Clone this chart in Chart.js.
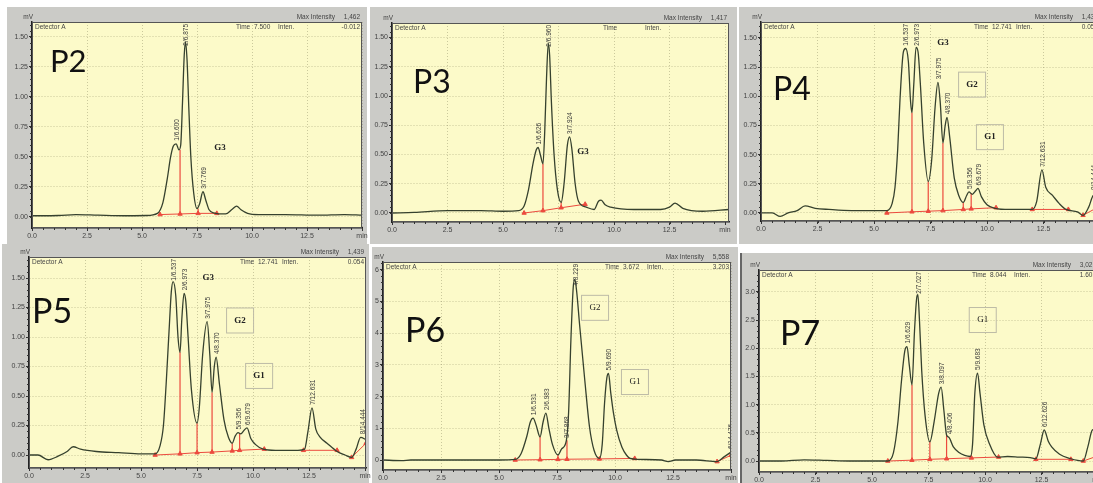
<!DOCTYPE html>
<html>
<head>
<meta charset="utf-8">
<script src="https://cdn.jsdelivr.net/npm/chart.js@4.4.1/dist/chart.umd.min.js"></script>
<style>
  html, body { margin: 0; padding: 0; background: #fff; overflow: hidden; }
  body { width: 1093px; height: 483px; position: relative; }
  .frame { position: absolute; background: #cbcbc7; }
  canvas { position: absolute; }
</style>
</head>
<body>
<script>
// ------------------------------------------------------------------
//  Axis ticks
// ------------------------------------------------------------------
const xTicks = [0, 2.5, 5, 7.5, 10, 12.5, 15];
const yTicksLow = [0, 0.25, 0.5, 0.75, 1, 1.25, 1.5];
const yTicksP6 = [0, 1, 2, 3, 4, 5, 6];
const yTicksP7 = [0, 0.5, 1, 1.5, 2, 2.5, 3];

// ------------------------------------------------------------------
//  Chromatograms: [time (min), signal (mV)]
// ------------------------------------------------------------------
const p2Trace = [[0,0.01],[1.2,0.012],[2.0,0.02],[3.0,0.015],[4.2,0.01],[5.2,0.012],[5.7,0.03],[5.95,0.12],[6.15,0.32],[6.3,0.5],[6.42,0.59],[6.55,0.61],[6.68,0.56],[6.76,0.6],[6.84,0.95],[6.92,1.35],[6.98,1.46],[7.05,1.3],[7.13,0.9],[7.22,0.5],[7.35,0.2],[7.5,0.07],[7.62,0.11],[7.77,0.21],[7.9,0.14],[8.05,0.06],[8.25,0.035],[8.8,0.025],[9.1,0.065],[9.3,0.09],[9.5,0.06],[9.8,0.03],[10.3,0.02],[11.5,0.02],[13.0,0.015],[14.2,0.02],[15.0,0.015]];
const p3Trace = [[0,0.0],[1.0,0.005],[2.5,0.02],[4.0,0.02],[5.0,0.015],[5.7,0.02],[5.95,0.06],[6.15,0.2],[6.35,0.42],[6.5,0.54],[6.58,0.56],[6.68,0.5],[6.8,0.42],[6.88,0.7],[6.96,1.15],[7.04,1.45],[7.1,1.35],[7.18,0.95],[7.3,0.5],[7.45,0.2],[7.62,0.09],[7.75,0.25],[7.9,0.58],[8.0,0.65],[8.1,0.55],[8.25,0.25],[8.4,0.1],[8.75,0.05],[9.1,0.03],[9.3,0.1],[9.42,0.11],[9.6,0.07],[9.85,0.05],[10.9,0.03],[12.1,0.03],[12.5,0.05],[12.75,0.085],[13.1,0.04],[14.0,0.015],[15.2,0.03]];
const p4Trace = [[0,0.0],[0.5,0.0],[0.85,-0.03],[1.2,0.0],[1.6,0.02],[1.95,0.06],[2.4,0.04],[3.0,0.03],[4.0,0.02],[5.0,0.02],[5.57,0.02],[5.8,0.08],[5.93,0.22],[6.05,0.55],[6.15,0.97],[6.3,1.38],[6.4,1.41],[6.52,1.3],[6.62,0.95],[6.68,0.86],[6.76,1.1],[6.86,1.42],[6.95,1.38],[7.05,1.11],[7.2,0.6],[7.4,0.27],[7.55,0.45],[7.7,0.9],[7.83,1.12],[7.93,0.95],[8.05,0.6],[8.15,0.75],[8.23,0.82],[8.35,0.65],[8.55,0.3],[8.75,0.15],[8.95,0.09],[9.1,0.15],[9.2,0.18],[9.35,0.16],[9.5,0.19],[9.6,0.21],[9.75,0.14],[10.0,0.07],[10.35,0.04],[11.0,0.03],[12.0,0.03],[12.2,0.1],[12.43,0.37],[12.6,0.22],[12.9,0.15],[13.2,0.08],[13.5,0.03],[14.0,0.01],[14.25,-0.02],[14.5,0.05],[14.7,0.15],[15.2,0.18]];
const p5Trace = [[0,0.0],[0.4,0.0],[0.85,-0.04],[1.3,-0.01],[1.7,0.03],[1.97,0.07],[2.3,0.05],[3.0,0.03],[4.0,0.02],[5.0,0.01],[5.63,0.01],[5.85,0.08],[6.0,0.25],[6.12,0.6],[6.25,1.05],[6.35,1.38],[6.43,1.47],[6.55,1.35],[6.65,1.0],[6.74,0.87],[6.82,1.15],[6.92,1.37],[7.0,1.3],[7.1,1.0],[7.25,0.55],[7.5,0.27],[7.6,0.4],[7.75,0.85],[7.95,1.13],[8.07,0.85],[8.17,0.53],[8.27,0.75],[8.35,0.83],[8.5,0.6],[8.7,0.3],[8.9,0.15],[9.07,0.1],[9.2,0.16],[9.33,0.19],[9.45,0.18],[9.6,0.21],[9.73,0.23],[9.9,0.14],[10.1,0.09],[10.45,0.05],[11.0,0.04],[12.0,0.04],[12.3,0.05],[12.45,0.2],[12.63,0.4],[12.8,0.22],[13.0,0.15],[13.3,0.1],[13.75,0.03],[14.1,0.0],[14.4,-0.02],[14.6,0.05],[14.8,0.15],[15.04,0.13]];
const p6Trace = [[0,0.0],[0.8,-0.02],[1.2,0.0],[3.0,0.0],[4.0,0.0],[5.0,0.0],[5.7,0.02],[5.95,0.2],[6.2,0.75],[6.35,1.2],[6.47,1.32],[6.6,1.1],[6.77,0.73],[6.9,1.2],[7.02,1.48],[7.15,1.0],[7.3,0.5],[7.54,0.16],[7.7,0.35],[7.9,0.6],[8.0,1.5],[8.1,3.8],[8.2,5.45],[8.27,5.7],[8.35,5.3],[8.47,4.3],[8.7,2.5],[8.9,1.05],[9.1,0.3],[9.33,0.05],[9.45,0.5],[9.55,1.8],[9.65,2.6],[9.72,2.73],[9.82,2.1],[9.93,1.5],[10.07,0.95],[10.3,0.4],[10.5,0.15],[10.65,0.05],[11.0,0.02],[12.0,0.0],[12.3,-0.05],[12.6,0.0],[13.5,0.0],[14.4,-0.05],[14.7,0.1],[15.0,0.25]];
const p7Trace = [[0,0.0],[1.0,0.0],[2.0,0.02],[3.0,0.01],[4.0,0.0],[5.0,0.0],[5.7,0.0],[5.95,0.15],[6.15,0.7],[6.3,1.4],[6.45,1.95],[6.55,2.03],[6.65,1.7],[6.77,1.35],[6.88,2.3],[6.98,2.9],[7.03,2.95],[7.1,2.5],[7.2,1.6],[7.35,0.8],[7.56,0.34],[7.75,0.7],[7.95,1.2],[8.06,1.31],[8.18,0.9],[8.3,0.46],[8.4,0.42],[8.6,0.25],[8.85,0.15],[9.1,0.1],[9.35,0.08],[9.45,0.3],[9.55,1.2],[9.67,1.56],[9.78,1.2],[9.95,0.64],[10.2,0.3],[10.55,0.07],[11.0,0.08],[11.5,0.07],[12.0,0.06],[12.25,0.04],[12.45,0.3],[12.62,0.55],[12.8,0.35],[12.95,0.25],[13.3,0.12],[13.8,0.04],[14.1,0.01],[14.35,0.0],[14.55,0.25],[14.75,0.55],[15.2,0.6]];

// integration baselines: segments of [time, level, drop line top or null]
const p2Base = [[[5.82,0.02,null],[6.73,0.025,0.56],[7.55,0.03,0.07],[8.4,0.03,null]]];
const p3Base = [[[5.95,0.0,null],[6.8,0.02,0.42],[7.62,0.045,0.09],[8.7,0.075,null]]];
const p4Base = [[[5.57,0.0,null],[6.68,0.01,0.86],[7.4,0.015,0.27],[8.05,0.02,0.6],[8.95,0.03,0.09],[9.3,0.035,0.17],[10.4,0.045,null]],
                [[12.0,0.03,null],[13.6,0.03,null]],
                [[14.25,-0.02,null],[15.2,0.08,null]]];
const p5Base = [[[5.63,0.0,null],[6.74,0.01,0.87],[7.5,0.02,0.27],[8.17,0.025,0.53],[9.07,0.035,0.1],[9.4,0.04,0.18],[10.5,0.05,null]],
                [[12.25,0.04,null],[13.75,0.04,null]],
                [[14.4,-0.02,null],[15.04,0.1,null]]];
const p6Base = [[[5.7,0.0,null],[6.77,0.01,0.73],[7.54,0.02,0.16],[7.93,0.025,0.62],[9.33,0.035,null],[10.85,0.05,null]],
                [[14.4,-0.05,null],[15.0,0.15,null]]];
const p7Base = [[[5.7,0.0,null],[6.77,0.015,1.35],[7.56,0.03,0.34],[8.3,0.04,0.46],[9.4,0.055,0.08],[10.6,0.07,null]],
                [[12.25,0.03,null],[13.8,0.03,null]],
                [[14.35,0.0,null],[15.2,0.12,null]]];

// peak labels: [time, apex, text]
const p2Peaks = [[6.55,0.61,'1/6.600'],[6.98,1.46,'2/6.875'],[7.77,0.21,'3/7.769']];
const p3Peaks = [[6.58,0.56,'1/6.626'],[7.04,1.45,'2/6.960'],[8.0,0.65,'3/7.924']];
const p4Peaks = [[6.4,1.41,'1/6.537'],[6.86,1.42,'2/6.973'],[7.83,1.12,'3/7.975'],[8.23,0.82,'4/8.370'],[9.2,0.18,'5/9.356'],[9.6,0.21,'6/9.679'],[12.43,0.37,'7/12.631'],[14.72,0.17,'8/14.444']];
const p5Peaks = [[6.43,1.47,'1/6.537'],[6.92,1.37,'2/6.973'],[7.95,1.13,'3/7.975'],[8.35,0.83,'4/8.370'],[9.33,0.19,'5/9.356'],[9.73,0.23,'6/9.679'],[12.63,0.4,'7/12.631'],[14.85,0.15,'8/14.444']];
const p6Peaks = [[6.47,1.32,'1/6.531'],[7.02,1.48,'2/6.983'],[7.9,0.6,'3/7.868'],[8.27,5.7,'4/8.229'],[9.72,2.73,'5/9.690'],[14.95,0.25,'6/14.476']];
const p7Peaks = [[6.55,2.03,'1/6.629'],[7.03,2.95,'2/7.027'],[8.06,1.31,'3/8.097'],[8.4,0.42,'4/8.406'],[9.67,1.56,'5/9.683'],[12.62,0.55,'6/12.626']];

// ------------------------------------------------------------------
//  Panel layout (frame: left, top, width, height / plot: l, t, r, b)
// ------------------------------------------------------------------
const panels = [
  { name: 'P2', frame: [7, 7, 360, 237], plot: [32, 22, 362, 228], xMax: 15, yMin: -0.092, yMax: 1.625,
    yTicks: yTicksLow, dec: 2, minorY: 0.05, trace: p2Trace, base: p2Base, peaks: p2Peaks,
    maxInt: '1,462', time: '7.500', inten: '-0.012', title: [50, 72, 31],
    notes: [['G3', 8.55, 0.575, false]] },
  { name: 'P3', frame: [370, 7, 367, 237], plot: [392, 23, 729, 222], xMax: 15.18, yMin: -0.077, yMax: 1.624,
    yTicks: yTicksLow, dec: 2, minorY: 0.05, trace: p3Trace, base: p3Base, peaks: p3Peaks,
    maxInt: '1,417', time: '', inten: '', title: [413, 93, 32],
    notes: [['G3', 8.6, 0.52, false]] },
  { name: 'P4', frame: [739, 7, 370, 237], plot: [761, 22, 1100, 221], xMax: 15.0, yMin: -0.069, yMax: 1.637,
    yTicks: yTicksLow, dec: 2, minorY: 0.05, trace: p4Trace, base: p4Base, peaks: p4Peaks,
    maxInt: '1,439', time: '12.741', inten: '0.054', title: [773, 100, 32],
    notes: [['G3', 8.05, 1.46, false], ['G2', 9.34, 1.1, true], ['G1', 10.13, 0.65, true]] },
  { name: 'P5', frame: [2, 244, 367, 239], plot: [29, 257, 366, 468], xMax: 15.04, yMin: -0.11, yMax: 1.678,
    yTicks: yTicksLow, dec: 2, minorY: 0.05, trace: p5Trace, base: p5Base, peaks: p5Peaks,
    maxInt: '1,439', time: '12.741', inten: '0.054', title: [32, 323, 34],
    notes: [['G3', 8.0, 1.5, false], ['G2', 9.42, 1.14, true], ['G1', 10.27, 0.67, true]] },
  { name: 'P6', frame: [372, 247, 366, 236], plot: [383, 262, 731, 470], xMax: 15.0, yMin: -0.315, yMax: 6.246,
    yTicks: yTicksP6, dec: 0, minorY: 0.2, trace: p6Trace, base: p6Base, peaks: p6Peaks,
    maxInt: '5,558', time: '3.672', inten: '3.203', title: [405, 342, 34],
    notes: [['G2', 9.14, 4.8, true], ['G1', 10.86, 2.46, true]] },
  { name: 'P7', frame: [740, 253, 370, 230], plot: [759, 270, 1098, 472], xMax: 15.0, yMin: -0.195, yMax: 3.387,
    yTicks: yTicksP7, dec: 1, minorY: 0.1, trace: p7Trace, base: p7Base, peaks: p7Peaks,
    maxInt: '3,021', time: '8.044', inten: '1.603', title: [780, 345, 34],
    notes: [['G1', 9.9, 2.5, true]] }
];

const SMALL = '"Liberation Sans", sans-serif';

function baselinePoints(segments) {
  const pts = [];
  segments.forEach(seg => {
    seg.forEach(([t, v]) => pts.push({ x: t, y: v }));
    pts.push({ x: seg[seg.length - 1][0], y: null });
  });
  return pts;
}

// ------------------------------------------------------------------
//  Plugin: plot background, drop lines, labels, header texts
// ------------------------------------------------------------------
function chromPlugin(p) {
  return {
    id: 'chrom',
    beforeDraw(chart) {
      const { ctx, chartArea: a } = chart;
      ctx.save();
      ctx.fillStyle = '#fcfac9';
      ctx.fillRect(a.left, a.top, a.right - a.left, a.bottom - a.top);
      ctx.restore();
    },
    beforeDatasetsDraw(chart) {
      const { ctx, chartArea: a, scales: { x: xs, y: ys } } = chart;
      ctx.save();
      ctx.beginPath();
      ctx.rect(a.left, a.top, a.right - a.left, a.bottom - a.top);
      ctx.clip();
      ctx.strokeStyle = '#ec4a3e';
      ctx.lineWidth = 1.2;
      ctx.beginPath();
      p.base.forEach(seg => seg.forEach(([t, v, top]) => {
        if (top == null) return;
        const px = xs.getPixelForValue(t);
        ctx.moveTo(px, ys.getPixelForValue(v));
        ctx.lineTo(px, ys.getPixelForValue(top));
      }));
      ctx.stroke();
      ctx.restore();
    },
    afterDatasetsDraw(chart) {
      const { ctx, chartArea: a, scales: { x: xs, y: ys } } = chart;
      ctx.save();
      ctx.beginPath();
      ctx.rect(a.left, a.top, a.right - a.left, a.bottom - a.top);
      ctx.clip();

      // peak labels
      ctx.fillStyle = '#3a3a3a';
      ctx.font = '6.5px ' + SMALL;
      ctx.textAlign = 'left';
      ctx.textBaseline = 'middle';
      p.peaks.forEach(([t, v, label]) => {
        const px = xs.getPixelForValue(t) + 1;
        let py = ys.getPixelForValue(v) - 3;
        const w = ctx.measureText(label).width;
        if (py - w < a.top + 2) py = a.top + 2 + w;
        ctx.save();
        ctx.translate(px, py);
        ctx.rotate(-Math.PI / 2);
        ctx.fillText(label, 0, 0);
        ctx.restore();
      });

      // G notes
      p.notes.forEach(([text, t, v, boxed]) => {
        const px = xs.getPixelForValue(t);
        const py = ys.getPixelForValue(v);
        if (boxed) {
          ctx.strokeStyle = '#bdbba6';
          ctx.lineWidth = 1;
          ctx.strokeRect(px - 13.5, py - 12.5, 27, 25);
        }
        ctx.fillStyle = '#222';
        ctx.font = (p.dec === 2 ? 'bold ' : '') + '9px "Liberation Serif", serif';
        ctx.textAlign = 'center';
        ctx.textBaseline = 'middle';
        ctx.fillText(text, px, py);
      });

      // header inside plot
      ctx.fillStyle = '#444';
      ctx.font = '6.5px ' + SMALL;
      ctx.textBaseline = 'alphabetic';
      ctx.textAlign = 'left';
      ctx.fillText('Detector A', a.left + 3, a.top + 7);
      ctx.fillText('Time', a.right - 126, a.top + 7);
      ctx.fillText(p.time, a.right - 108, a.top + 7);
      ctx.fillText('Inten.', a.right - 84, a.top + 7);
      ctx.textAlign = 'right';
      ctx.fillText(p.inten, a.right - 2, a.top + 7);
      ctx.restore();

      // plot frame
      ctx.save();
      ctx.strokeStyle = '#555';
      ctx.lineWidth = 1;
      ctx.strokeRect(a.left + 0.5, a.top + 0.5, a.right - a.left - 1, a.bottom - a.top - 1);
      ctx.restore();
    },
    afterDraw(chart) {
      const { ctx, chartArea: a, scales: { x: xs, y: ys } } = chart;
      ctx.save();
      // minor ticks
      ctx.strokeStyle = '#333';
      ctx.lineWidth = 1;
      ctx.beginPath();
      for (let t = 0; t <= p.xMax + 1e-6; t += 0.5) {
        const px = Math.round(xs.getPixelForValue(t)) + 0.5;
        ctx.moveTo(px, a.bottom);
        ctx.lineTo(px, a.bottom + 2);
      }
      for (let v = 0; v <= p.yMax + 1e-6; v += p.minorY) {
        const py = Math.round(ys.getPixelForValue(v)) + 0.5;
        ctx.moveTo(a.left - 2, py);
        ctx.lineTo(a.left, py);
      }
      ctx.stroke();

      // header above plot
      ctx.fillStyle = '#444';
      ctx.font = '6.5px ' + SMALL;
      ctx.textAlign = 'right';
      ctx.textBaseline = 'alphabetic';
      ctx.fillText('mV', a.left + 1, a.top - 3);
      ctx.fillText(p.maxInt, a.right - 2, a.top - 3);
      ctx.fillText('Max Intensity', a.right - 27, a.top - 3);

      // panel title
      ctx.fillStyle = '#111';
      ctx.font = p.title[2] + 'px Lato, "Open Sans", sans-serif';
      ctx.textAlign = 'left';
      ctx.fillText(p.name, p.title[0] - p.frame[0], p.title[1] - p.frame[1]);
      ctx.restore();
    }
  };
}

// ------------------------------------------------------------------
//  Build panels
// ------------------------------------------------------------------
panels.forEach(p => {
  const [fl, ft, fw, fh] = p.frame;
  const [pl, pt, pr, pb] = p.plot;

  const frame = document.createElement('div');
  frame.className = 'frame';
  Object.assign(frame.style, { left: fl + 'px', top: ft + 'px', width: fw + 'px', height: fh + 'px' });
  if (p.name === 'P7') frame.style.borderLeft = '2px solid #666';
  document.body.appendChild(frame);

  const canvas = document.createElement('canvas');
  const cw = fw + 10;
  canvas.width = cw;
  canvas.height = fh;
  Object.assign(canvas.style, { left: fl + 'px', top: ft + 'px', width: cw + 'px', height: fh + 'px' });
  document.body.appendChild(canvas);

  const tickFont = { size: 7, family: SMALL };
  new Chart(canvas, {
    type: 'line',
    data: {
      datasets: [
        {
          data: p.trace.map(([t, v]) => ({ x: t, y: v })),
          borderColor: '#36412e',
          borderWidth: 1.3,
          pointRadius: 0,
          cubicInterpolationMode: 'monotone',
          order: 1
        },
        {
          data: baselinePoints(p.base),
          borderColor: '#ec4a3e',
          borderWidth: 1,
          pointStyle: 'triangle',
          pointRadius: 2.5,
          pointBackgroundColor: '#ec4a3e',
          pointBorderColor: '#ec4a3e',
          spanGaps: false,
          order: 2
        }
      ]
    },
    options: {
      responsive: false,
      animation: false,
      events: [],
      layout: { padding: { top: pt - ft, right: fl + cw - pr, left: 0, bottom: 0 } },
      plugins: { legend: { display: false }, tooltip: { enabled: false } },
      scales: {
        x: {
          type: 'linear',
          min: 0,
          max: p.xMax,
          afterBuildTicks: s => { s.ticks = xTicks.filter(v => v <= p.xMax + 0.2).map(v => ({ value: v })); },
          afterFit: s => { s.height = ft + fh - pb; },
          ticks: {
            autoSkip: false, maxRotation: 0, padding: 1, font: tickFont, color: '#444',
            callback: v => (v === 15 ? 'min' : v.toFixed(1))
          },
          grid: { color: 'rgba(130,128,90,0.4)', tickColor: '#333', tickLength: 3 },
          border: { color: '#222', width: 1.5, dash: [1, 2] }
        },
        y: {
          type: 'linear',
          min: p.yMin,
          max: p.yMax,
          afterBuildTicks: s => { s.ticks = p.yTicks.map(v => ({ value: v })); },
          afterFit: s => { s.width = pl - fl; },
          ticks: {
            padding: 1, font: tickFont, color: '#444',
            callback: v => v.toFixed(p.dec)
          },
          grid: { color: 'rgba(130,128,90,0.4)', tickColor: '#333', tickLength: 3 },
          border: { color: '#222', width: 1.5, dash: [1, 2] }
        }
      }
    },
    plugins: [chromPlugin(p)]
  });
});
</script>
</body>
</html>
